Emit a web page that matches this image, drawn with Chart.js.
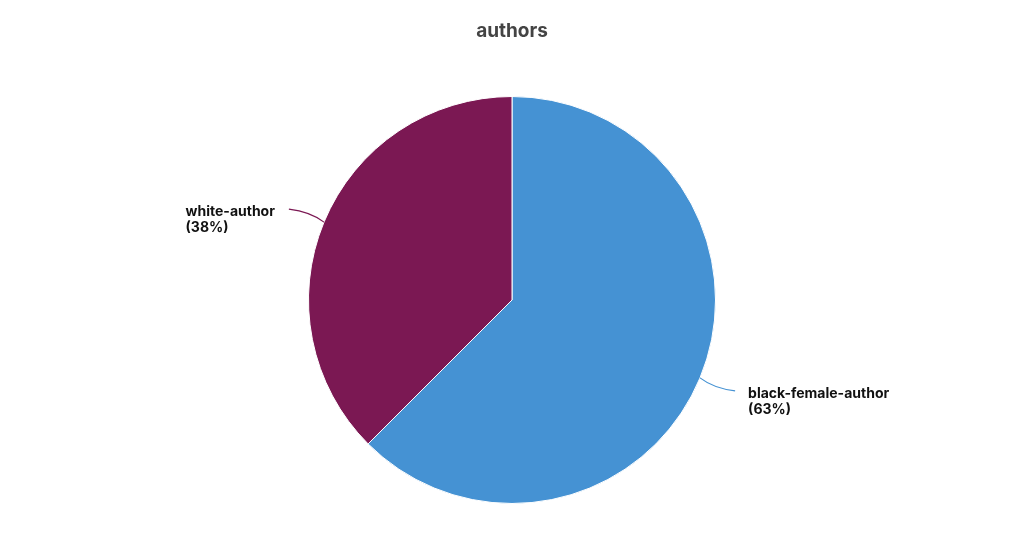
<!DOCTYPE html>
<html lang="en">

<head>
  <meta charset="UTF-8" />
  <title>authors</title>
  <script src="https://cdn.jsdelivr.net/npm/chart.js"></script>
  <style>
    html,
    body {
      margin: 0;
      padding: 0;
      background: #fff;
    }

    #wrap {
      width: 1024px;
      height: 549px;
    }
  </style>
</head>

<body>
  <div id="wrap"><canvas id="authorsChart"></canvas></div>
  <script>
    const categories = ['black-female-author', 'white-author'];
    const counts = [5, 3];
    const colors = ['#4592d3', '#7b1853'];

    const total = counts.reduce((a, b) => a + b, 0);
    const percents = counts.map(v => Math.round(v / total * 100));

    // draws the curved leader lines and the two-line labels
    const leaderLabels = {
      id: 'leaderLabels',
      afterDatasetsDraw(chart) {
        const ctx = chart.ctx;
        const arcs = chart.getDatasetMeta(0).data;
        ctx.save();
        ctx.font = 'bold 14px Inter, sans-serif';
        ctx.textBaseline = 'middle';
        arcs.forEach((arc, i) => {
          const mid = (arc.startAngle + arc.endAngle) / 2;
          const cos = Math.cos(mid), sin = Math.sin(mid);
          const sx = arc.x + cos * arc.outerRadius;
          const sy = arc.y + sin * arc.outerRadius;
          const ex = arc.x + cos * (arc.outerRadius + 38);
          const ey = arc.y + sin * (arc.outerRadius + 34);
          const right = cos >= 0;
          const cx = (sx + ex) / 2 + (right ? -4 : 4);
          const cy = ey + (sy - ey) * 0.2;

          ctx.strokeStyle = colors[i];
          ctx.lineWidth = 1.2;
          ctx.beginPath();
          ctx.moveTo(sx, sy);
          ctx.quadraticCurveTo(cx, cy, ex, ey);
          ctx.stroke();

          const lines = [categories[i], '(' + percents[i] + '%)'];
          const w = Math.max(...lines.map(t => ctx.measureText(t).width));
          const tx = right ? ex + 13 : ex - 14 - w;
          ctx.fillStyle = '#111';
          ctx.textAlign = 'left';
          lines.forEach((t, k) => ctx.fillText(t, tx, ey + 3 + k * 16));
        });
        ctx.restore();
      }
    };

    new Chart(document.getElementById('authorsChart'), {
      type: 'pie',
      data: {
        labels: categories,
        datasets: [{
          data: counts,
          backgroundColor: colors,
          borderColor: '#ffffff',
          borderWidth: 1
        }]
      },
      options: {
        responsive: true,
        maintainAspectRatio: false,
        animation: false,
        layout: {
          padding: { top: 20, bottom: 45 }
        },
        plugins: {
          legend: { display: false },
          tooltip: { enabled: false },
          title: {
            display: true,
            text: 'authors',
            color: '#444444',
            font: { family: 'Inter, sans-serif', size: 19, weight: 'bold' },
            padding: { top: 0, bottom: 53.2 }
          }
        }
      },
      plugins: [leaderLabels]
    });
  </script>
</body>

</html>
